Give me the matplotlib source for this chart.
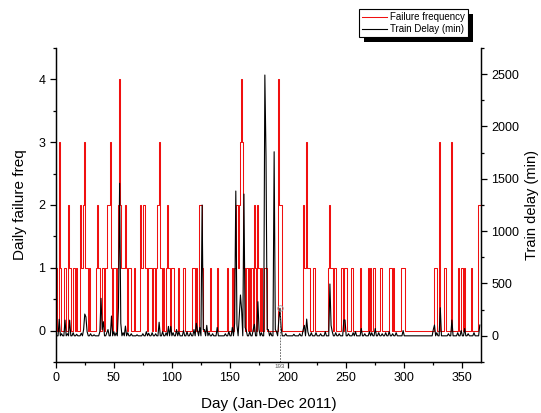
import numpy as np
import matplotlib
matplotlib.use("Agg")
import matplotlib.pyplot as plt
from matplotlib.ticker import MultipleLocator
from matplotlib.patches import Rectangle

plt.rcParams['font.family'] = ['Liberation Sans', 'DejaVu Sans']

n_days = 365

# Daily failure frequency: days with failures and the count on that day (others are 0)
failure_days = [1, 3, 4, 8, 11, 12, 13, 15, 16, 18,
                21, 22, 23, 24, 25, 26, 27, 29,
                35, 36, 37, 38, 40, 41, 43, 44, 45, 46, 47, 48, 50, 51, 53, 54, 55, 56, 57, 58, 59, 60, 61, 63,
                64, 68, 73, 74, 75, 76, 77, 78, 80, 81, 82, 84, 85, 87, 88, 89, 90, 91, 93, 95, 96, 97, 98,
                100, 101, 106, 110, 111, 118, 119, 121, 124, 125, 126,
                133, 139, 148, 152, 154, 155, 156, 157, 158, 159, 160, 161, 162, 164, 165, 167, 169,
                171, 172, 174, 175, 177, 180, 181, 192, 193, 194,
                213, 214, 215, 216, 217, 218, 222, 223, 235, 236, 237, 238, 240, 241, 246, 247, 249, 250,
                255, 262, 269, 271, 274, 280, 287, 288, 289, 291, 298, 299, 300,
                326, 327, 328, 330, 335, 341, 347, 349, 350, 352, 358, 364, 365]
failure_counts = [1, 3, 1, 1, 2, 1, 1, 1, 1, 1,
                  2, 1, 1, 2, 3, 1, 1, 1,
                  1, 2, 1, 1, 1, 1, 1, 1, 2, 2, 3, 1, 1, 1, 1, 2, 4, 2, 1, 1, 1, 2, 1, 1,
                  1, 1, 2, 1, 1, 2, 1, 1, 1, 1, 1, 1, 1, 1, 2, 3, 1, 1, 1, 1, 2, 1, 1,
                  1, 1, 1, 1, 1, 1, 1, 1, 2, 2, 1,
                  1, 1, 1, 1, 1, 1, 2, 1, 2, 3, 4, 3, 1, 1, 1, 1, 1,
                  2, 1, 2, 1, 1, 1, 1, 4, 2, 2,
                  2, 1, 1, 3, 1, 1, 1, 1, 1, 2, 1, 1, 1, 1, 1, 1, 1, 1,
                  1, 1, 1, 1, 1, 1, 1, 1, 1, 1, 1, 1, 1,
                  1, 1, 1, 3, 1, 3, 1, 1, 1, 1, 1, 2, 2]

# Train delay (min): days with delay and the minutes on that day (others are 0)
delay_days = [3, 5, 8, 10, 12, 15, 18, 22, 24, 25, 26, 27, 30, 33, 38, 39, 40, 41, 44, 45, 48, 50,
              52, 54, 55, 56, 58, 60, 62, 65, 70, 75, 78, 80, 83, 86, 89, 92, 95, 97, 99, 101, 104,
              106, 110, 113, 116, 119, 121, 122, 124, 126, 127, 128, 130, 132, 135, 139, 146, 149,
              152, 154, 155, 156, 158, 159, 160, 162, 163, 164, 167, 170, 171, 174, 175, 177, 180,
              181, 182, 183, 185, 188, 189, 190, 192, 193, 194, 198, 205, 210, 213, 214, 216, 217,
              220, 224, 228, 232, 236, 237, 238, 241, 244, 248, 249, 252, 256, 258, 263, 266, 270,
              272, 275, 278, 281, 284, 287, 290, 293, 299, 325, 326, 328, 331, 338, 341, 346, 349,
              352, 355, 360, 365]
delay_minutes = [158, 20, 150, 20, 150, 30, 15, 25, 60, 208, 180, 40, 20, 10, 40, 358, 60, 135, 30, 60, 189, 40,
                 30, 270, 1457, 120, 30, 93, 30, 20, 10, 20, 40, 25, 30, 20, 130, 40, 30, 90, 90, 30, 60,
                 40, 50, 40, 30, 60, 120, 50, 80, 1249, 60, 60, 100, 30, 20, 80, 20, 40,
                 80, 120, 1383, 100, 200, 390, 250, 1354, 80, 50, 40, 60, 110, 326, 60, 30, 2491,
                 1711, 60, 60, 30, 1758, 60, 40, 150, 263, 80, 20, 15, 20, 60, 100, 160, 40,
                 30, 30, 20, 40, 495, 100, 40, 30, 20, 151, 151, 20, 30, 40, 70, 20, 40,
                 30, 70, 30, 20, 30, 40, 20, 30, 50, 60, 103, 30, 268, 20, 151, 30, 50,
                 70, 20, 30, 103]

marked_day = 193

days = np.arange(1, n_days + 1)
freq = np.zeros(n_days)
freq[np.array(failure_days) - 1] = failure_counts
delay = np.zeros(n_days)
delay[np.array(delay_days) - 1] = delay_minutes

fig = plt.figure(figsize=(5.41, 4.13), dpi=100)
ax = fig.add_axes([0.103, 0.1235, 0.786, 0.7605])
ax2 = ax.twinx()

l1, = ax.step(days, freq, where='mid', color='#f01010', lw=0.75, label='Failure frequency')
l2, = ax2.plot(days, delay, color='black', lw=0.8, label='Train Delay (min)')

# data reader marker at day 193
mv = delay[marked_day - 1]
ax2.plot([marked_day, marked_day], [mv, -250], color='#555555', lw=0.6, ls=(0, (2, 1.5)))
ax2.plot([marked_day], [mv], marker='o', ms=4, mfc='none', mec='#999999', mew=0.6)
ax2.annotate(str(marked_day), xy=(marked_day, 0), xycoords=('data', 'axes fraction'),
             xytext=(0, -1.5), textcoords='offset points', ha='center', va='top',
             fontsize=4.5, color='#555555')

ax.set_xlim(0, 366)
ax.set_ylim(-0.5, 4.5)
ax2.set_ylim(-250, 2750)

ax.xaxis.set_major_locator(MultipleLocator(50))
ax.xaxis.set_minor_locator(MultipleLocator(25))
ax.yaxis.set_major_locator(MultipleLocator(1))
ax.yaxis.set_minor_locator(MultipleLocator(0.5))
ax2.yaxis.set_major_locator(MultipleLocator(500))
ax2.yaxis.set_minor_locator(MultipleLocator(250))

for a in (ax, ax2):
    a.spines['top'].set_visible(False)
    for s in a.spines.values():
        s.set_linewidth(0.9)
    a.tick_params(which='major', direction='out', length=4, width=0.9, labelsize=9, pad=3.5)
    a.tick_params(which='minor', direction='out', length=2.5, width=0.9)

ax.set_xlabel('Day (Jan-Dec 2011)', fontsize=11, labelpad=9)
ax.set_ylabel('Daily failure freq', fontsize=11, labelpad=8)
ax2.set_ylabel('Train delay (min)', fontsize=10.5, labelpad=4)

leg = fig.legend(handles=[l1, l2], loc='upper left', bbox_to_anchor=(0.6636, 0.978),
                 fontsize=7, frameon=True, fancybox=False, framealpha=1, edgecolor='black',
                 handlelength=2.6, handletextpad=0.3, borderpad=0.3, labelspacing=0.2,
                 borderaxespad=0)
leg.get_frame().set_linewidth(0.8)
leg.set_zorder(6)

fig.canvas.draw()
bb = leg.get_window_extent()
shadow = Rectangle((bb.x0 + 5, bb.y0 - 5), bb.width, bb.height, transform=None,
                   facecolor='black', edgecolor='none', zorder=5)
fig.add_artist(shadow)

fig.savefig('out.png', dpi=100)
